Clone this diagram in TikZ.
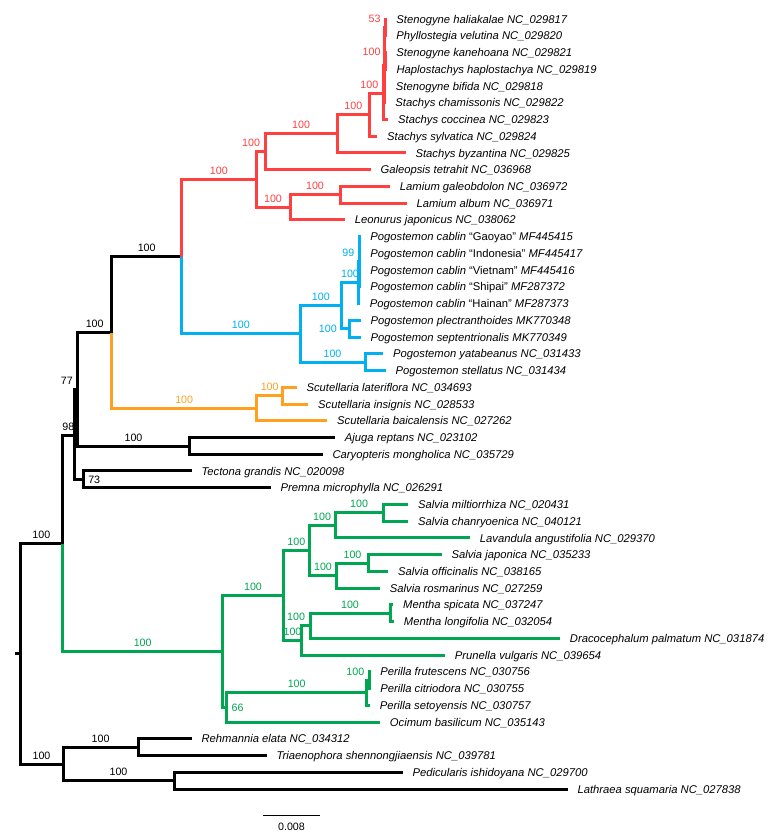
\documentclass[tikz,border=0pt]{standalone}
\usepackage{fontspec}
\setmainfont{Liberation Sans}
\usepackage{xcolor}
\definecolor{cladered}{RGB}{255,64,64}
\definecolor{cladeblue}{RGB}{0,176,240}
\definecolor{cladeorange}{RGB}{255,160,32}
\definecolor{cladegreen}{RGB}{0,166,81}

\begin{document}
\begin{tikzpicture}[x=0.25mm, y=-0.25mm,
  br/.style={line width=0.75mm},
  taxon/.style={anchor=west, inner xsep=2.4mm, inner ysep=0pt, text height=5.8pt, text depth=0pt,
    font=\fontsize{8}{9.6}\selectfont\itshape},
  bs/.style={pos=.75, above=1.9pt, inner sep=0.5pt, font=\fontsize{7.6}{9}\selectfont},
  bsshort/.style={pos=1, anchor=south east, xshift=-0.7mm, yshift=1.9pt, inner sep=0.5pt,
    font=\fontsize{7.6}{9}\selectfont},
  bsright/.style={anchor=west, xshift=0.7mm, inner sep=0.5pt, font=\fontsize{7.6}{9}\selectfont},
  bsleft/.style={pos=.5, anchor=east, xshift=-0.7mm, inner sep=0.5pt, font=\fontsize{7.6}{9}\selectfont}]

\useasboundingbox (0,0) rectangle (780,837);

% the taxa, one row each
\foreach \i/\x/\nm in {
  0/386.5/Stenogyne haliakalae NC\_029817, 1/386.5/Phyllostegia velutina NC\_029820,
  2/386.5/Stenogyne kanehoana NC\_029821, 3/386.7/Haplostachys haplostachya NC\_029819,
  4/386/Stenogyne bifida NC\_029818, 5/385.5/Stachys chamissonis NC\_029822,
  6/388.3/Stachys coccinea NC\_029823, 7/377.3/Stachys sylvatica NC\_029824,
  8/405.7/Stachys byzantina NC\_029825, 9/370.7/Galeopsis tetrahit NC\_036968,
  10/390/Lamium galeobdolon NC\_036972, 11/406.7/Lamium album NC\_036971,
  12/345/Leonurus japonicus NC\_038062,
  13/360.5/Pogostemon cablin {\upshape “Gaoyao”} MF445415,
  14/360.5/Pogostemon cablin {\upshape “Indonesia”} MF445417,
  15/360.5/Pogostemon cablin {\upshape “Vietnam”} MF445416,
  16/360.5/Pogostemon cablin {\upshape “Shipai”} MF287372,
  17/360/Pogostemon cablin {\upshape “Hainan”} MF287373,
  18/360.7/Pogostemon plectranthoides MK770348, 19/360.7/Pogostemon septentrionalis MK770349,
  20/383.3/Pogostemon yatabeanus NC\_031433, 21/385.7/Pogostemon stellatus NC\_031434,
  22/296.7/Scutellaria lateriflora NC\_034693, 23/308.3/Scutellaria insignis NC\_028533,
  24/327.3/Scutellaria baicalensis NC\_027262, 25/335/Ajuga reptans NC\_023102,
  26/322.7/Caryopteris mongholica NC\_035729, 27/191.7/Tectona grandis NC\_020098,
  28/270.7/Premna microphylla NC\_026291, 29/408.3/Salvia miltiorrhiza NC\_020431,
  30/408.3/Salvia chanryoenica NC\_040121, 31/470/Lavandula angustifolia NC\_029370,
  32/441.7/Salvia japonica NC\_035233, 33/388.3/Salvia officinalis NC\_038165,
  34/380/Salvia rosmarinus NC\_027259, 35/393.3/Mentha spicata NC\_037247,
  36/394/Mentha longifolia NC\_032054, 37/560/Dracocephalum palmatum NC\_031874,
  38/445/Prunella vulgaris NC\_039654, 39/370.5/Perilla frutescens NC\_030756,
  40/370.5/Perilla citriodora NC\_030755, 41/370/Perilla setoyensis NC\_030757,
  42/380/Ocimum basilicum NC\_035143, 43/191.7/Rehmannia elata NC\_034312,
  44/266.7/Triaenophora shennongjiaensis NC\_039781, 45/402.7/Pedicularis ishidoyana NC\_029700,
  46/567.7/Lathraea squamaria NC\_027838}
  \node[taxon] (t\i) at (\x,{19+16.74*\i}) {\nm};

% internal nodes of the tree
\coordinate (stub) at (15,653.7);
\coordinate (root) at (20,653.7);
\coordinate (lamia) at (62.7,543.5);
\coordinate (outg) at (63,764);
\coordinate (rehm) at (138.3,747.2);
\coordinate (pedi) at (174,780.7);
\coordinate (n98) at (74,435);
\coordinate (n77) at (77.7,389.5);
\coordinate (n73) at (83.3,479.5);
\coordinate (core) at (111.7,332.5);
\coordinate (ajuga) at (189.3,446);
\coordinate (nepe) at (181.7,256.5);
% red clade
\coordinate (lamio) at (256,179.5);
\coordinate (stach) at (265,151.8);
\coordinate (stachA) at (337.3,133.7);
\coordinate (stachB) at (369.3,114.6);
\coordinate (stachC) at (383.3,93);
\coordinate (hawaii) at (384.3,65);
\coordinate (ste53) at (385.5,27.4);
\coordinate (hawk) at (385.5,60.9);
\coordinate (lamthree) at (290,207.3);
\coordinate (lamium) at (340,194.8);
% blue clade
\coordinate (pogo) at (300,333.9);
\coordinate (pogoA) at (341.7,305.6);
\coordinate (cablin) at (358.3,282.6);
\coordinate (cablinA) at (359.3,261.7);
\coordinate (pogoB) at (349,328.7);
\coordinate (pogoC) at (365,362.2);
% orange clade
\coordinate (scut) at (256.7,408.2);
\coordinate (scutA) at (282.7,395.7);
% green clade
\coordinate (nepet) at (222.7,651.6);
\coordinate (salv) at (283.3,595.8);
\coordinate (salvA) at (309.3,550.5);
\coordinate (salvB) at (335,525.4);
\coordinate (salvC) at (383.3,512.9);
\coordinate (salvD) at (336.7,575.6);
\coordinate (salvE) at (368.3,563);
\coordinate (menth) at (301.7,640.5);
\coordinate (menthA) at (310,625.8);
\coordinate (mentha) at (390,613.3);
\coordinate (ocim) at (226.7,707.5);
\coordinate (perilla) at (366.7,692.8);
\coordinate (perillaA) at (369.3,680.2);

%% black backbone and outgroup
\draw[br] (stub) -- (root);
\draw[br] (root) |- node[bs]{100} (lamia);
\draw[br] (root) |- node[bs]{100} (outg);
\draw[br] (outg) |- node[bs]{100} (rehm);
\draw[br] (outg) |- node[bs]{100} (pedi);
\draw[br] (lamia) |- node[bs]{98} (n98);
\draw[br] (n98) |- node[bsshort]{77} (n77);
\draw[br] (n98) |- (n73) node[bsright]{73};
\draw[br] (n77) |- node[bs]{100} (core);
\draw[br] (n77) |- node[bs]{100} (ajuga);
\draw[br] (core) |- node[bs]{100} (nepe);
\foreach \p/\c in {rehm/43, rehm/44, pedi/45, pedi/46, ajuga/25, ajuga/26, n73/27, n73/28}
  \draw[br] (\p) |- (t\c.west);

%% red clade
\draw[br, cladered] (nepe) |- node[bs]{100} (lamio);
\draw[br, cladered] (lamio) |- node[bsshort]{100} (stach);
\draw[br, cladered] (stach) |- node[bs]{100} (stachA);
\draw[br, cladered] (stachA) |- node[bs]{100} (stachB);
\draw[br, cladered] (stachB) |- node[bsshort]{100} (stachC);
\draw[br, cladered] (stachC) |- (hawaii);
\draw[br, cladered] (hawaii) |- node[bsshort]{53} (ste53);
\draw[br, cladered] (hawaii) |- node[bsshort]{100} (hawk);
\draw[br, cladered] (lamio) |- node[bs]{100} (lamthree);
\draw[br, cladered] (lamthree) |- node[bs]{100} (lamium);
\foreach \p/\c in {ste53/0, ste53/1, hawk/2, hawk/3, hawaii/4, hawaii/5, stachC/6, stachB/7,
    stachA/8, stach/9, lamium/10, lamium/11, lamthree/12}
  \draw[br, cladered] (\p) |- (t\c.west);

%% blue clade
\draw[br, cladeblue] (nepe) |- node[bs]{100} (pogo);
\draw[br, cladeblue] (pogo) |- node[bs]{100} (pogoA);
\draw[br, cladeblue] (pogoA) |- node[bs]{100} (cablin);
\draw[br, cladeblue] (cablin) |- node[bsshort]{99} (cablinA);
\draw[br, cladeblue] (pogoA) |- node[bsleft]{100} (pogoB);
\draw[br, cladeblue] (pogo) |- node[bs]{100} (pogoC);
\foreach \p/\c in {cablinA/13, cablinA/14, cablinA/15, cablinA/16, cablin/17, pogoB/18, pogoB/19,
    pogoC/20, pogoC/21}
  \draw[br, cladeblue] (\p) |- (t\c.west);

%% orange clade
\draw[br, cladeorange] (core) |- node[bs]{100} (scut);
\draw[br, cladeorange] (scut) |- node[bs]{100} (scutA);
\foreach \p/\c in {scutA/22, scutA/23, scut/24}
  \draw[br, cladeorange] (\p) |- (t\c.west);

%% green clade
\draw[br, cladegreen] (lamia) |- node[bs]{100} (nepet);
\draw[br, cladegreen] (nepet) |- node[bs]{100} (salv);
\draw[br, cladegreen] (salv) |- node[bs]{100} (salvA);
\draw[br, cladegreen] (salvA) |- node[bs]{100} (salvB);
\draw[br, cladegreen] (salvB) |- node[bs]{100} (salvC);
\draw[br, cladegreen] (salvA) |- node[bs]{100} (salvD);
\draw[br, cladegreen] (salvD) |- node[bs]{100} (salvE);
\draw[br, cladegreen] (salv) |- node[bs]{100} (menth);
\draw[br, cladegreen] (menth) |- node[bsshort]{100} (menthA);
\draw[br, cladegreen] (menthA) |- node[bs]{100} (mentha);
\draw[br, cladegreen] (nepet) |- (ocim) node[bsright]{66};
\draw[br, cladegreen] (ocim) |- node[bs]{100} (perilla);
\draw[br, cladegreen] (perilla) |- node[bsshort]{100} (perillaA);
\foreach \p/\c in {salvC/29, salvC/30, salvB/31, salvE/32, salvE/33, salvD/34, mentha/35,
    mentha/36, menthA/37, menth/38, perillaA/39, perillaA/40, perilla/41, ocim/42}
  \draw[br, cladegreen] (\p) |- (t\c.west);

% scale bar
\coordinate (sbl) at (263,815.5);
\coordinate (sbr) at (320,815.5);
\draw[line width=0.4mm] (sbl) -- node[below=4.6pt, inner sep=0.5pt, font=\fontsize{7.6}{9}\selectfont]{0.008} (sbr);

\end{tikzpicture}
\end{document}
